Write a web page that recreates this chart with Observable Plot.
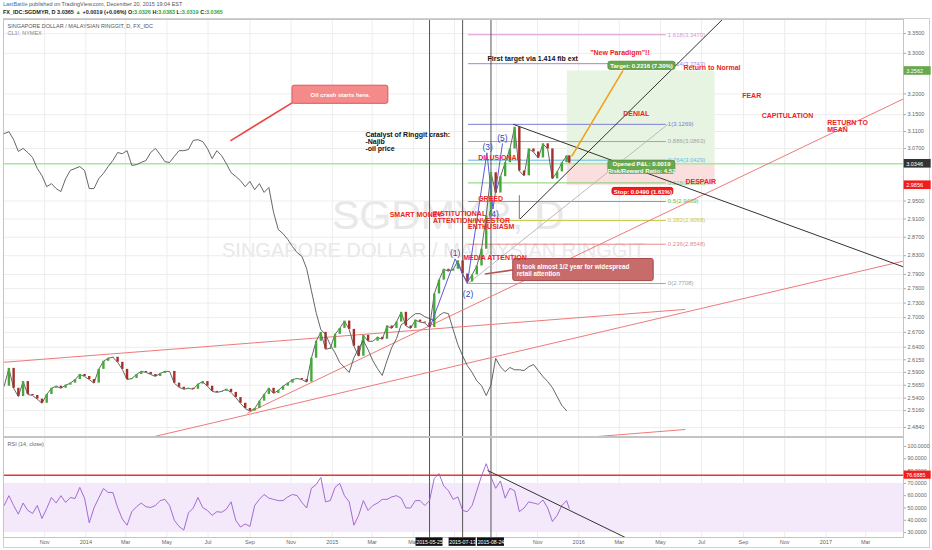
<!DOCTYPE html>
<html>
<head>
<meta charset="utf-8">
<script src="https://cdn.jsdelivr.net/npm/d3@7"></script>
<script src="https://cdn.jsdelivr.net/npm/@observablehq/plot@0.6"></script>
<style>
html,body{margin:0;padding:0;background:#fff;}
#wrap{position:relative;width:932px;height:550px;overflow:hidden;font-family:"Liberation Sans",Arial,sans-serif;}
.layer{position:absolute;left:0;}
.hdr{position:absolute;left:3px;white-space:nowrap;font-size:5.5px;color:#555;line-height:1;}
.g{color:#3aa33a}
.wm{position:absolute;white-space:nowrap;color:#e8e8e8;line-height:1;}
#frame{position:absolute;left:3px;top:18px;width:927px;height:530px;border:1px solid #cfcfcf;box-sizing:border-box;}
</style>
</head>
<body>
<div id="wrap">
  <div class="hdr" style="top:2px"><span style="color:#2f76c3">LastBattle</span> published on TradingView.com, December 20, 2015 19:04 EST</div>
  <div class="hdr" style="top:10px;color:#222;font-weight:bold">FX_IDC:SGDMYR, D 3.0365 <span class="g">▲</span> +0.0019 (+0.06%) O:<span class="g">3.0326</span> H:<span class="g">3.0383</span> L:<span class="g">3.0319</span> C:<span class="g">3.0365</span></div>
  <div id="frame"></div>
  <div class="wm" style="left:332px;top:195px;font-size:41px">SGDMYR, D</div>
  <div class="wm" style="left:222px;top:240px;font-size:20px">SINGAPORE DOLLAR / MALAYSIAN RINGGIT</div>
  <div id="baseLayer" class="layer" style="top:18px"></div>
  <div id="oilLayer" class="layer" style="top:18px"></div>
  <div id="annotLayer" class="layer" style="top:18px"></div>
  <div id="rsiLayer" class="layer" style="top:436px"></div>
</div>
<script>
// ---------------- DATA ----------------
const firstWeek = "2013-09-02";          // weekly samples, 7 days apart
const lastBarDate = "2015-12-18";
// SGD/MYR weekly closes (last value = final daily close)
const sgdmyrClose = [2.563,2.598,2.559,2.543,2.572,2.547,2.545,2.538,2.530,2.547,
2.559,2.563,2.559,2.565,2.569,2.576,2.586,2.582,2.576,2.569,
2.596,2.612,2.618,2.620,2.610,2.596,2.576,2.578,2.586,2.592,
2.590,2.586,2.582,2.588,2.592,2.592,2.569,2.561,2.557,2.559,
2.557,2.567,2.572,2.563,2.553,2.551,2.553,2.557,2.551,2.541,
2.530,2.520,2.515,2.520,2.534,2.547,2.559,2.549,2.555,2.563,
2.569,2.576,2.578,2.576,2.571,2.618,2.652,2.670,2.636,2.638,
2.666,2.678,2.693,2.676,2.642,2.622,2.664,2.652,2.652,2.660,
2.656,2.683,2.678,2.691,2.711,2.683,2.678,2.695,2.691,2.689,
2.680,2.749,2.778,2.801,2.797,2.801,2.819,2.791,2.774,2.789,
2.808,2.844,2.917,3.014,2.968,3.005,3.037,3.069,3.120,3.018,
3.007,3.069,3.062,3.048,3.081,3.069,3.000,3.016,3.037,3.053,3.0365];
// CL1! (NYMEX crude) weekly closes, USD
const oilClose = [108.3,108.8,106.7,103.6,104.4,103.3,102.0,99.1,97.2,94.3,
95.1,93.8,93.0,96.4,98.6,99.1,99.6,98.6,93.8,93.8,
96.4,97.8,99.6,101.2,103.3,103.0,103.8,99.9,100.1,100.7,
101.2,103.3,104.4,102.8,100.9,100.7,102.3,103.8,103.8,104.1,
106.5,106.7,106.2,104.4,101.7,103.8,102.5,100.4,98.0,97.0,
95.9,94.3,95.7,93.5,95.1,92.8,94.1,87.5,83.0,81.9,
80.4,78.5,76.9,75.9,72.7,66.9,61.1,56.6,55.3,52.6,
50.5,47.9,46.6,45.3,49.2,51.6,53.7,51.3,48.4,46.3,
44.5,48.4,51.9,54.2,57.9,58.7,59.8,60.8,60.8,60.0,
59.5,59.0,60.3,61.1,60.8,56.6,52.6,49.7,47.1,45.3,
43.1,41.8,39.2,42.0,49.0,46.8,45.5,46.6,46.0,46.0,
45.8,46.8,47.4,45.8,44.2,42.9,41.3,38.9,36.6,35.2];
// RSI(14, close) weekly samples
const rsiValues = [52,60,52,45,54,48,45.5,52,41.5,49.6,
58.5,54,60,54.5,58.5,57.7,66.7,58,38,50,
58,65.8,62.6,62.6,50.4,41,36,47,51,54,
51,50.4,52,56,57,52,40,35,32,46,
50,58.5,50.4,48,44,47,46.5,49,55,40,
34.5,37,35,52,57,61,58,57,56,56,
59,61,60,54.5,50,66,69,74.8,55,56,
66.7,70,60,55,36,44,56,48,52,54,
57,57,59,60,58,50,50,56,56,52,
56,74,78,68,64,57,59,48,47,52,
64,76,86,75,66,72,58,66,64,47,
50,55,54,53,56.5,50,39,44,52,56,49.6];

const priceTicks = [3.35,3.30,3.20,3.15,3.11,3.07,2.95,2.91,2.87,2.83,2.79,2.76,2.73,2.70,2.67,2.64,2.615,2.59,2.565,2.54,2.516,2.484];
const rsiTicks = [30,40,50,60,70,80,90,100];
const eventDates = ["2015-05-25","2015-07-13","2015-08-24"];

const fibLevels = ["1.618","1.414","1","0.886","0.764","0.618","0.5","0.382","0.236","0"];
const fibPrices = [3.3470,3.2743,3.1269,3.0863,3.0429,2.9909,2.9489,2.9068,2.8548,2.7708];
const fibColors = ["#dc96d2","#a687d6","#7c7cd6","#a3a3a3","#66b8e3","#82cf6e","#62c04c","#c9c94c","#e38d8d","#a3a3a3"];
const fibStart = "2015-07-21", fibEnd = "2016-05-09", fibLabelAt = "2016-05-12";

const entryPrice = 3.0346, targetPrice = 3.2562, stopPrice = 2.9856, rsiLevel = 76.6885;
const positionStart = "2015-12-15", positionEnd = "2016-07-21";

const trendLines = [
  {x1:"2013-09-01", y1:2.610, x2:"2016-06-07", y2:2.717, c:"#ee7a7a"},
  {x1:"2016-01-11", y1:2.4652, x2:"2016-06-07", y2:2.4802, c:"#ee7a7a"},
  {x1:"2014-08-28", y1:2.511, x2:"2017-04-26", y2:3.188, c:"#ee7a7a"},
  {x1:"2014-04-11", y1:2.4665, x2:"2017-04-26", y2:2.8185, c:"#ee7a7a"},
  {x1:"2015-09-26", y1:3.127, x2:"2017-04-26", y2:2.806, c:"#333"},
  {x1:"2015-10-06", y1:2.910, x2:"2016-08-02", y2:3.388, c:"#333"},
  {x1:"2015-10-05", y1:2.963, x2:"2015-10-05", y2:2.910, c:"#777"},
  {x1:"2015-07-21", y1:2.7708, x2:"2016-05-12", y2:3.1269, c:"#bbbbbb"}
];
const waveDates = ["2015-05-25","2015-07-02","2015-07-20","2015-08-18","2015-08-27","2015-09-10"];
const wavePrices = [2.678,2.823,2.7708,3.060,2.932,3.081];
const waveLabels = [
  {t:"(1)", d:"2015-07-02", p:2.8357},{t:"(2)", d:"2015-07-21", p:2.7486},
  {t:"(3)", d:"2015-08-19", p:3.074},{t:"(4)", d:"2015-08-28", p:2.921},{t:"(5)", d:"2015-09-10", p:3.095}];
const phaseLabels = [
  {t:"\"New Paradigm\"!!", d:"2016-01-18", p:3.302},
  {t:"Return to Normal", d:"2016-06-04", p:3.2645},
  {t:"DENIAL", d:"2016-03-07", p:3.152},
  {t:"FEAR", d:"2016-08-30", p:3.196},
  {t:"CAPITULATION", d:"2016-09-28", p:3.147},
  {t:"RETURN TO\nMEAN", d:"2017-01-03", p:3.1235},
  {t:"DESPAIR", d:"2016-06-07", p:2.993},
  {t:"DILUSIONAL", d:"2015-08-05", p:3.048},
  {t:"GREED", d:"2015-08-05", p:2.955},
  {t:"SMART MONEY", d:"2015-03-27", p:2.919},
  {t:"INSTITUTIONAL\nATTENTION/INVESTOR", d:"2015-05-30", p:2.9134},
  {t:"ENTHUSIASM", d:"2015-07-21", p:2.894},
  {t:"MEDIA ATTENTION", d:"2015-07-14", p:2.825}];
const noteLabels = [
  {t:"Catalyst of Ringgit crash:\n-Najib\n-oil price", d:"2015-02-19", p:3.0868},
  {t:"First target via 1.414 fib ext", d:"2015-08-19", p:3.287}];
const orangeDates = ["2015-12-22","2016-03-06"], orangePrices = [3.053, 3.256];
const boxes = [
  {x1:"2014-11-03", x2:"2015-03-25", y1:3.176, y2:3.220, fill:"#f48a8a", stroke:"#e25555"},
  {x1:"2015-09-26", x2:"2016-04-21", y1:2.776, y2:2.823, fill:"#c86b6b", stroke:"#a84848"},
  {x1:"2016-02-14", x2:"2016-05-23", y1:3.259, y2:3.279, fill:"#6aa84f", stroke:"#5a9643"},
  {x1:"2016-02-14", x2:"2016-05-23", y1:3.012, y2:3.0414, fill:"#6aa84f", stroke:"#5a9643"},
  {x1:"2016-02-20", x2:"2016-05-20", y1:2.9638, y2:2.9795, fill:"#f21d1d", stroke:"#d11"}];
const centeredBoxTexts = [
  {t:"Oil crash starts here.", d:"2015-01-13", p:3.198},
  {t:"Target: 0.2216 (7.30%)", d:"2016-04-03", p:3.269},
  {t:"Opened P&L: 0.0019\nRisk/Reward Ratio: 4.52", d:"2016-04-03", p:3.0264},
  {t:"Stop: 0.0490 (1.61%)", d:"2016-04-05", p:2.9717}];
const leftBoxTexts = [
  {t:"It took almost 1/2 year for widespread\nretail attention", d:"2015-10-01", p:2.7998}];
const tails = [
  {x1:"2014-11-15", y1:3.191, x2:"2014-08-03", y2:3.088},
  {x1:"2015-09-27", y1:2.800, x2:"2015-08-15", y2:2.791}];
const rsiTrend = {x1:"2015-08-19", y1:80.5, x2:"2016-03-10", y2:26};

// ---------------- PREP ----------------
const D = s => new Date(s);
const dates = sgdmyrClose.map((_, i) => i < sgdmyrClose.length - 1 ? d3.utcDay.offset(D(firstWeek), 7 * i) : D(lastBarDate));
const candles = sgdmyrClose.map((c, i) => ({date: dates[i], open: i ? sgdmyrClose[i - 1] : c, close: c}));
const oilSeries = oilClose.map((v, i) => ({date: dates[i], v}));
const rsiSeries = rsiValues.map((v, i) => ({date: dates[i], v}));
const fib = fibLevels.map((l, i) => ({l, p: fibPrices[i], c: fibColors[i]}));
const monthTicks = d3.utcMonth.every(2).range(D("2013-11-01"), D("2017-04-02"));
const FONT = "Liberation Sans, Arial, sans-serif";
const X = {type: "utc", domain: [D("2013-09-01"), D("2017-04-26")], axis: null};
const Y = {type: "log", domain: [2.467, 3.386]};
const geom = {width: 932, height: 418, marginTop: 1, marginBottom: 0, marginLeft: 3, marginRight: 29,
  style: {background: "transparent", overflow: "visible", fontFamily: FONT}};
const axisBox = [{v: targetPrice, fill: "#6aa84f"}, {v: entryPrice, fill: "#333333"}, {v: stopPrice, fill: "#f21d1d"}];
const k = Math.exp(4.3 / 1314);
const beyond1 = D("2017-04-27"), beyond2 = D("2017-06-06"), beyondT = D("2017-04-30");

// ---------------- BASE LAYER ----------------
const basePlot = Plot.plot({...geom, x: X, y: Y,
  marks: [
    Plot.gridX(monthTicks, {stroke: "#ededed", strokeOpacity: 1}),
    Plot.gridY(priceTicks, {stroke: "#ededed", strokeOpacity: 1}),
    Plot.rect([{a: positionStart, b: positionEnd, lo: entryPrice, hi: targetPrice}],
      {x1: d => D(d.a), x2: d => D(d.b), y1: "lo", y2: "hi", fill: "#e7f4e2"}),
    Plot.rect([{a: positionStart, b: positionEnd, lo: stopPrice, hi: entryPrice}],
      {x1: d => D(d.a), x2: d => D(d.b), y1: "lo", y2: "hi", fill: "#fbdede"}),
    Plot.ruleY([entryPrice], {stroke: "#a6e8a0", strokeWidth: 1.5}),
    Plot.link(fib, {x1: () => D(fibStart), x2: () => D(fibEnd), y1: "p", y2: "p", stroke: "c", strokeWidth: 1}),
    Plot.text(fib, {x: () => D(fibLabelAt), y: "p", text: d => `${d.l}(${d.p.toFixed(4)})`, fill: "c",
      textAnchor: "start", fontSize: 6, fontFamily: FONT}),
    Plot.ruleX(eventDates, {x: D, stroke: "#555", strokeWidth: 1}),
    Plot.link(trendLines, {x1: d => D(d.x1), y1: "y1", x2: d => D(d.x2), y2: "y2", stroke: "c", strokeWidth: 1, clip: true}),
    Plot.line(candles, {x: "date", y: "close", stroke: "#666", strokeWidth: 1}),
    Plot.ruleX(candles, {x: "date", y1: "open", y2: "close", strokeWidth: 2.4,
      stroke: d => d.close >= d.open ? "#45a83a" : "#a3302a"}),
    Plot.frame({stroke: "#c4c4c4"}),
    Plot.axisY(priceTicks, {anchor: "right", tickFormat: d3.format(".4f"), tickSize: 2, tickPadding: 2,
      fontSize: 5.5, fill: "#666", stroke: "#aaa", label: null}),
    Plot.rect(axisBox, {x1: () => beyond1, x2: () => beyond2, y1: d => d.v / k, y2: d => d.v * k, fill: "fill"}),
    Plot.text(axisBox, {x: () => beyondT, y: "v", text: d => d.v.toFixed(4), fill: "white", textAnchor: "start",
      fontSize: 5.5, fontFamily: FONT})
  ]});
document.getElementById("baseLayer").append(basePlot);

// ---------------- OIL OVERLAY ----------------
const oilPlot = Plot.plot({...geom, x: X, y: {domain: [28.4, 138.4], axis: null},
  marks: [Plot.line(oilSeries, {x: "date", y: "v", stroke: "#555", strokeWidth: 0.9})]});
document.getElementById("oilLayer").append(oilPlot);

// ---------------- ANNOTATION LAYER ----------------
const annotPlot = Plot.plot({...geom, x: X, y: {...Y, axis: null},
  marks: [
    Plot.line(waveDates.map((d, i) => ({d: D(d), p: wavePrices[i]})), {x: "d", y: "p", stroke: "#5b5bd6", strokeWidth: 1}),
    Plot.text(waveLabels, {x: d => D(d.d), y: "p", text: "t", fill: "#3d3db8", fontSize: 8.5, fontFamily: FONT}),
    Plot.line(orangeDates.map((d, i) => ({d: D(d), p: orangePrices[i]})), {x: "d", y: "p", stroke: "#f0a21c", strokeWidth: 1.6}),
    Plot.link(tails, {x1: d => D(d.x1), y1: "y1", x2: d => D(d.x2), y2: "y2", stroke: (d, i) => i ? "#b85555" : "#ee4444", strokeWidth: 1.6}),
    Plot.rect(boxes, {x1: d => D(d.x1), x2: d => D(d.x2), y1: "y1", y2: "y2", fill: "fill", stroke: "stroke", rx: 2}),
    Plot.text(centeredBoxTexts, {x: d => D(d.d), y: "p", text: "t", fill: "white", fontSize: 6,
      fontWeight: "bold", lineHeight: 1.1, fontFamily: FONT}),
    Plot.text(leftBoxTexts, {x: d => D(d.d), y: "p", text: "t", textAnchor: "start", fill: "white", fontSize: 6.3,
      fontWeight: "bold", lineHeight: 1.15, fontFamily: FONT}),
    Plot.text(phaseLabels, {x: d => D(d.d), y: "p", text: "t", textAnchor: "start", fill: "#ec2424", fontSize: 7,
      fontWeight: "bold", lineHeight: 1, fontFamily: FONT}),
    Plot.text(noteLabels, {x: d => D(d.d), y: "p", text: "t", textAnchor: "start", fill: "#111", fontSize: 7,
      fontWeight: "bold", lineHeight: 1, fontFamily: FONT}),
    Plot.text(["SINGAPORE DOLLAR / MALAYSIAN RINGGIT, D, FX_IDC"], {frameAnchor: "top-left", dx: 4, dy: 5, fill: "#555", fontSize: 5.5, fontFamily: FONT}),
    Plot.text(["CL1!, NYMEX"], {frameAnchor: "top-left", dx: 4, dy: 12, fill: "#888", fontSize: 5.5, fontFamily: FONT})
  ]});
document.getElementById("annotLayer").append(annotPlot);

// ---------------- RSI PANEL ----------------
const dateBoxes = eventDates.map(s => ({d: D(s), a: d3.utcDay.offset(D(s), -20), b: d3.utcDay.offset(D(s), 20)}));
const rsiPlot = Plot.plot({width: 932, height: 114, marginTop: 1, marginBottom: 13, marginLeft: 3, marginRight: 29,
  style: {background: "transparent", overflow: "visible", fontFamily: FONT},
  x: X, y: {domain: [26, 107.3]},
  marks: [
    Plot.gridX(monthTicks, {stroke: "#ededed", strokeOpacity: 1}),
    Plot.rectY([{lo: 30, hi: 70}], {y1: "lo", y2: "hi", fill: "#f3e9fb"}),
    Plot.ruleY([rsiLevel], {stroke: "#e83535", strokeWidth: 1.5}),
    Plot.ruleX(eventDates, {x: D, stroke: "#555", strokeWidth: 1}),
    Plot.line(rsiSeries, {x: "date", y: "v", stroke: "#9b5ccc", strokeWidth: 0.9}),
    Plot.link([rsiTrend], {x1: d => D(d.x1), y1: "y1", x2: d => D(d.x2), y2: "y2", stroke: "#333", strokeWidth: 1, clip: true}),
    Plot.frame({stroke: "#c4c4c4"}),
    Plot.text(["RSI (14, close)"], {frameAnchor: "top-left", dx: 4, dy: 5, fill: "#666", fontSize: 5.5, fontFamily: FONT}),
    Plot.axisY(rsiTicks, {anchor: "right", tickFormat: d3.format(".4f"), tickSize: 2, tickPadding: 2,
      fontSize: 5.3, fill: "#666", stroke: "#aaa", label: null}),
    Plot.axisX(monthTicks, {anchor: "bottom", tickSize: 0, tickPadding: 3, fontSize: 5.5, fill: "#666", label: null,
      tickFormat: d => d.getUTCMonth() === 0 ? String(d.getUTCFullYear()) : d3.utcFormat("%b")(d)}),
    Plot.rect([{v: rsiLevel}], {x1: () => beyond1, x2: () => beyond2, y1: d => d.v - 3.3, y2: d => d.v + 3.3, fill: "#f21d1d"}),
    Plot.text([{v: rsiLevel}], {x: () => beyondT, y: "v", text: d => d.v.toFixed(4), fill: "white", textAnchor: "start", fontSize: 5.3, fontFamily: FONT}),
    Plot.rect(dateBoxes, {x1: "a", x2: "b", y1: 18.8, y2: 25.7, fill: "#111"}),
    Plot.text(dateBoxes, {x: "d", y: 22.2, text: d => d3.utcFormat("%Y-%m-%d")(d.d), fill: "white", fontSize: 5.2, fontFamily: FONT})
  ]});
document.getElementById("rsiLayer").append(rsiPlot);
</script>
</body>
</html>
